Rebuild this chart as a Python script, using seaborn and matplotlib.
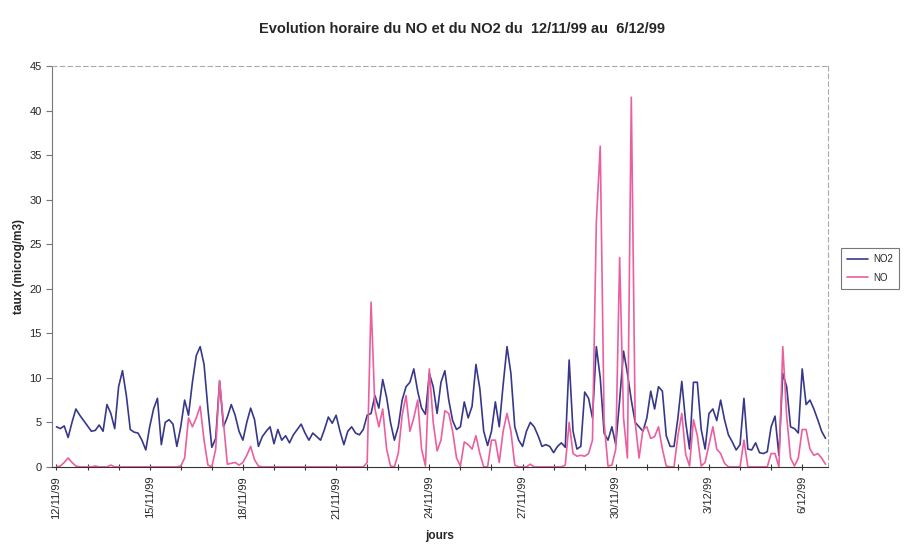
import matplotlib
matplotlib.use("Agg")
import matplotlib.pyplot as plt
from matplotlib.ticker import MultipleLocator
import pandas as pd
import seaborn as sns

# hourly NO / NO2 readings, one value read every 3 hours from 12/11/99 00h
no2 = [
    4.5, 4.3, 4.6, 3.3, 5.0, 6.5, 5.8, 5.2, 4.6, 4.0,
    4.1, 4.7, 4.0, 7.0, 6.0, 4.3, 9.0, 10.8, 8.0, 4.2,
    3.9, 3.8, 3.0, 1.9, 4.5, 6.5, 7.7, 2.5, 5.0, 5.3,
    4.8, 2.3, 4.5, 7.5, 5.8, 9.5, 12.5, 13.5, 11.5, 6.5,
    2.2, 3.2, 9.6, 4.5, 5.6, 7.0, 5.8, 4.0, 3.0, 5.0,
    6.6, 5.3, 2.3, 3.4, 4.0, 4.5, 2.6, 4.2, 3.0, 3.5,
    2.7, 3.6, 4.2, 4.8, 3.8, 3.0, 3.8, 3.4, 3.0, 4.2,
    5.6, 4.9, 5.8, 4.0, 2.5, 4.0, 4.5, 3.8, 3.6, 4.2,
    5.8, 6.0, 8.0, 6.6, 9.8, 7.8, 5.0, 3.0, 4.5, 7.5,
    9.0, 9.5, 11.0, 8.5, 6.6, 5.9, 10.5, 9.0, 6.0, 9.5,
    10.8, 7.5, 5.2, 4.2, 4.5, 7.3, 5.5, 6.8, 11.5, 8.8,
    4.0, 2.4, 4.0, 7.3, 4.5, 9.2, 13.5, 10.5, 4.5, 3.0,
    2.3, 4.0, 5.0, 4.5, 3.5, 2.3, 2.5, 2.3, 1.6, 2.3,
    2.7, 2.2, 12.0, 4.0, 2.0, 2.3, 8.4, 7.7, 5.5, 13.5,
    10.0, 3.8, 3.0, 4.5, 2.5, 7.5, 13.0, 10.5, 7.5, 5.0,
    4.5, 4.0, 5.5, 8.5, 6.5, 9.0, 8.5, 3.5, 2.3, 2.3,
    5.5, 9.6, 5.0, 2.0, 9.5, 9.5, 4.2, 2.0, 6.0, 6.5,
    5.2, 7.5, 5.3, 3.6, 2.8, 1.9, 2.5, 7.7, 2.0, 1.9,
    2.7, 1.6, 1.5, 1.7, 4.5, 5.7, 1.3, 10.5, 9.0, 4.5,
    4.3, 3.8, 11.0, 7.0, 7.5, 6.5, 5.3, 4.0, 3.2,
]
no = [
    0.0, 0.1, 0.5, 1.0, 0.5, 0.1, 0.0, 0.0, 0.0, 0.0,
    0.1, 0.0, 0.0, 0.0, 0.2, 0.0, 0.0, 0.0, 0.0, 0.0,
    0.0, 0.0, 0.0, 0.0, 0.0, 0.0, 0.0, 0.0, 0.0, 0.0,
    0.0, 0.0, 0.1, 1.0, 5.5, 4.5, 5.5, 6.8, 3.0, 0.2,
    0.0, 2.0, 9.7, 5.0, 0.3, 0.4, 0.5, 0.2, 0.5, 1.3,
    2.3, 0.8, 0.1, 0.0, 0.0, 0.0, 0.0, 0.0, 0.0, 0.0,
    0.0, 0.0, 0.0, 0.0, 0.0, 0.0, 0.0, 0.0, 0.0, 0.0,
    0.0, 0.0, 0.0, 0.0, 0.0, 0.0, 0.0, 0.0, 0.0, 0.0,
    0.5, 18.5, 6.5, 4.5, 6.5, 2.0, 0.1, 0.0, 1.5, 5.8,
    8.0, 4.0, 5.5, 7.5, 2.0, 0.1, 11.0, 5.0, 1.8, 3.0,
    6.3, 6.0, 4.0, 1.0, 0.1, 2.8, 2.5, 2.0, 3.5, 1.5,
    0.0, 0.0, 3.0, 3.0, 0.5, 4.0, 6.0, 4.0, 0.2, 0.0,
    0.0, 0.0, 0.3, 0.0, 0.0, 0.0, 0.0, 0.0, 0.0, 0.0,
    0.0, 0.2, 5.0, 1.5, 1.2, 1.3, 1.2, 1.5, 3.0, 27.5,
    36.0, 5.0, 0.1, 0.2, 2.0, 23.5, 5.5, 1.0, 41.5, 5.0,
    1.0, 4.2, 4.5, 3.2, 3.4, 4.5, 2.0, 0.1, 0.0, 0.0,
    3.5, 6.0, 1.4, 0.1, 5.3, 3.5, 0.1, 0.5, 2.5, 4.5,
    2.0, 1.5, 0.4, 0.0, 0.0, 0.0, 0.0, 3.0, 0.0, 0.0,
    0.0, 0.0, 0.0, 0.0, 1.5, 1.5, 0.0, 13.5, 5.7, 1.0,
    0.1, 1.0, 4.2, 4.2, 2.0, 1.3, 1.5, 1.0, 0.3,
]
step_hours = 3
day_labels = ["12/11/99", "15/11/99", "18/11/99", "21/11/99", "24/11/99",
              "27/11/99", "30/11/99", "3/12/99", "6/12/99"]

hours = [i * step_hours for i in range(len(no2))]
df = pd.concat([
    pd.DataFrame({"heure": hours, "taux": no2, "serie": "NO2"}),
    pd.DataFrame({"heure": hours, "taux": no, "serie": "NO"}),
])

sns.set_style("white")
plt.rcParams["font.family"] = ["Liberation Sans", "DejaVu Sans"]

fig = plt.figure(figsize=(9.11, 5.48), dpi=100)
ax = fig.add_axes([0.057, 0.148, 0.852, 0.7315])

colors = {"NO2": "#38388a", "NO": "#ec5f9f"}
sns.lineplot(data=df, x="heure", y="taux", hue="serie", hue_order=["NO2", "NO"],
             palette=colors, linewidth=1.2, ax=ax, legend=False)

ax.set_xlim(-3.5, 596)
ax.set_ylim(0, 45)
ax.yaxis.set_major_locator(MultipleLocator(5))
ax.set_xticks([i * 72 for i in range(len(day_labels))])
ax.set_xticklabels(day_labels, rotation=90, fontsize=8)
ax.xaxis.set_minor_locator(MultipleLocator(24))
ax.tick_params(axis="x", which="both", direction="inout", length=5, width=0.8,
               color="#333333", bottom=True, pad=4)
ax.tick_params(axis="y", direction="out", length=4, width=0.8, color="#777777",
               left=True, labelsize=8)

for side in ["top", "right"]:
    ax.spines[side].set_linestyle((0, (4, 3)))
    ax.spines[side].set_color("#aaaaaa")
    ax.spines[side].set_linewidth(0.8)
ax.spines["left"].set_color("#777777")
ax.spines["bottom"].set_color("#333333")

ax.set_title("Evolution horaire du NO et du NO2 du  12/11/99 au  6/12/99",
             fontsize=10.5, fontweight="bold", pad=24, x=0.528)
ax.set_xlabel("jours", fontsize=8.5, fontweight="bold", labelpad=8)
ax.set_ylabel("taux (microg/m3)", fontsize=8.5, fontweight="bold", labelpad=3)

handles = [plt.Line2D([], [], color=colors[s], lw=1.2) for s in ["NO2", "NO"]]
leg = fig.legend(handles, ["NO2", "NO"], loc="upper left",
                 bbox_to_anchor=(0.918, 0.556), fontsize=7, frameon=True,
                 fancybox=False, edgecolor="#555555", handlelength=2.2,
                 handletextpad=0.5, borderpad=0.6, labelspacing=0.9)
leg.get_frame().set_linewidth(0.8)

fig.savefig("out.png", dpi=100)
